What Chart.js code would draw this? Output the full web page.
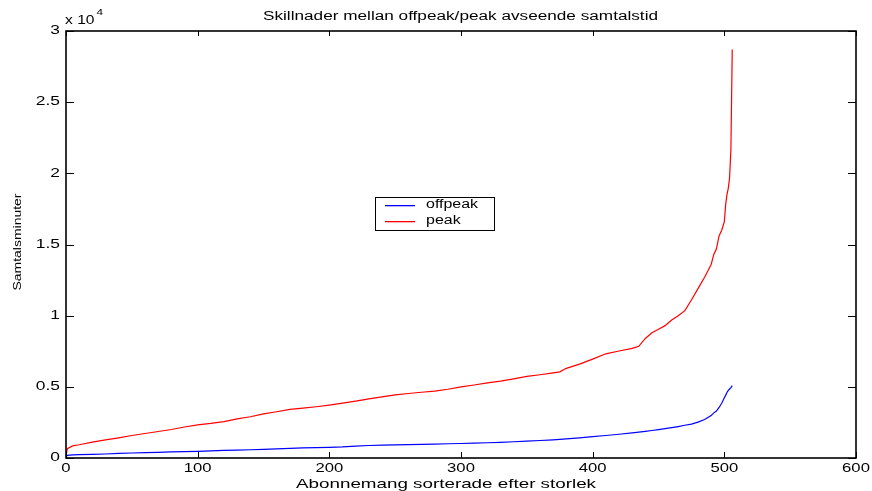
<!DOCTYPE html>
<html>
<head>
<meta charset="utf-8">
<script src="https://cdn.jsdelivr.net/npm/chart.js@4.4.1/dist/chart.umd.min.js"></script>
<style>
  html, body { margin: 0; padding: 0; background: #ffffff; }
  #wrap { width: 872px; height: 491px; }
</style>
</head>
<body>
<div id="wrap"><canvas id="c" width="872" height="491"></canvas></div>
<script>
// Subscriber index (sorted by size)
const abonnemang = [0, 1, 5, 10, 20, 30, 40, 50, 60, 70, 80, 90, 100, 110, 120, 130, 140, 150,
  160, 170, 180, 190, 200, 210, 220, 230, 240, 250, 260, 270, 280, 290, 300, 310, 320, 330,
  340, 350, 360, 370, 375, 380, 390, 400, 410, 420, 430, 435, 440, 445, 450, 455, 460, 465,
  470, 475, 480, 485, 490, 492, 494, 496, 498, 500, 501, 502, 503, 504, 505, 506];

// Call minutes, off-peak
const offpeak = [100, 180, 220, 240, 260, 280, 320, 350, 380, 400, 430, 450, 470, 500, 530, 550,
  580, 610, 640, 680, 710, 730, 750, 780, 840, 880, 900, 920, 940, 960, 980, 1000, 1020, 1040,
  1070, 1100, 1140, 1190, 1230, 1280, 1310, 1340, 1410, 1500, 1580, 1670, 1770, 1820, 1870,
  1930, 2000, 2060, 2130, 2210, 2300, 2380, 2520, 2700, 2980, 3170, 3300, 3550, 3850, 4230,
  4400, 4600, 4750, 4850, 4950, 5080];

// Call minutes, peak
const peak = [150, 650, 850, 930, 1120, 1270, 1420, 1580, 1720, 1860, 2000, 2180, 2330, 2430,
  2560, 2750, 2900, 3100, 3250, 3420, 3500, 3600, 3720, 3850, 4000, 4150, 4300, 4440, 4530,
  4620, 4700, 4830, 5000, 5130, 5280, 5400, 5560, 5740, 5850, 5980, 6050, 6300, 6600, 6950,
  7320, 7520, 7700, 7850, 8400, 8800, 9050, 9300, 9700, 10000, 10350, 11100, 11900, 12700,
  13600, 14300, 14700, 15600, 16000, 16600, 17800, 18500, 18950, 19700, 21700, 28700];

const xTicks = [0, 100, 200, 300, 400, 500, 600];
const xTickLabels = ['0', '100', '200', '300', '400', '500', '600'];
const yTicks = [0, 5000, 10000, 15000, 20000, 25000, 30000];
const yTickLabels = ['0', '0.5', '1', '1.5', '2', '2.5', '3'];

const seriesNames = ['offpeak', 'peak'];
const seriesColors = ['#0000ff', '#ff0000'];

const titleText = 'Skillnader mellan offpeak/peak avseende samtalstid';
const xTitle = 'Abonnemang sorterade efter storlek';
const yTitle = 'Samtalsminuter';

const FONT = 'Arial, "Liberation Sans", Helvetica, sans-serif';

// Text drawn with a horizontal stretch factor (wide printer-style lettering)
function wideText(ctx, text, x, y, size, sx, align) {
  ctx.save();
  ctx.font = size + 'px ' + FONT;
  ctx.textBaseline = 'middle';
  ctx.textAlign = 'left';
  const w = ctx.measureText(text).width * sx;
  let x0 = x;
  if (align === 'center') x0 = x - w / 2;
  else if (align === 'right') x0 = x - w;
  ctx.translate(x0, y);
  ctx.scale(sx, 1);
  ctx.fillText(text, 0, 0);
  ctx.restore();
  return w;
}

// Text stretched to fill a given width
function fitText(ctx, text, x, y, size, width) {
  ctx.save();
  ctx.font = size + 'px ' + FONT;
  const sx = width / ctx.measureText(text).width;
  ctx.restore();
  wideText(ctx, text, x, y, size, sx, 'center');
}

// Boxed axes with inward ticks, tick labels, titles, exponent label and legend
const framePlugin = {
  id: 'frame',
  afterDraw(chart) {
    const ctx = chart.ctx;
    const a = chart.chartArea;
    const xs = chart.scales.x, ys = chart.scales.y;
    ctx.save();

    // thin inward tick marks
    ctx.strokeStyle = '#000000';
    ctx.lineWidth = 1;
    ctx.beginPath();
    xTicks.forEach(v => {
      const px = Math.round(xs.getPixelForValue(v)) + 0.5;
      ctx.moveTo(px, a.bottom); ctx.lineTo(px, a.bottom - 6);
      ctx.moveTo(px, a.top); ctx.lineTo(px, a.top + 5);
    });
    yTicks.forEach(v => {
      const py = Math.round(ys.getPixelForValue(v)) + 0.5;
      ctx.moveTo(a.left, py); ctx.lineTo(a.left + 8, py);
      ctx.moveTo(a.right, py); ctx.lineTo(a.right - 8, py);
    });
    ctx.stroke();

    // axes box
    ctx.lineWidth = 1.6;
    ctx.strokeRect(Math.round(a.left), Math.round(a.top),
                   Math.round(a.right - a.left), Math.round(a.bottom - a.top));

    ctx.fillStyle = '#000000';

    // tick labels
    xTicks.forEach((v, i) => {
      wideText(ctx, xTickLabels[i], xs.getPixelForValue(v), 468, 13, 1.28, 'center');
    });
    yTicks.forEach((v, i) => {
      wideText(ctx, yTickLabels[i], a.left - 6, ys.getPixelForValue(v), 12, 1.45, 'right');
    });

    // titles
    fitText(ctx, titleText, 460.5, 17, 12, 395);
    fitText(ctx, xTitle, 446, 484, 13, 300);
    ctx.save();
    ctx.translate(18, 242);
    ctx.rotate(-Math.PI / 2);
    fitText(ctx, yTitle, 0, 0, 11, 97);
    ctx.restore();

    // exponent marker
    const w = wideText(ctx, 'x 10', a.left - 1, 21, 12, 1.3, 'left');
    wideText(ctx, '4', a.left - 1 + w + 2, 13, 9, 1.3, 'left');

    // legend box
    const lx = 375, ly = 197, lw = 119, lh = 33;
    ctx.fillStyle = '#ffffff';
    ctx.fillRect(lx, ly, lw, lh);
    ctx.strokeStyle = '#000000';
    ctx.lineWidth = 1;
    ctx.strokeRect(lx + 0.5, ly + 0.5, lw, lh);
    // legend entries: colour sample + label
    seriesNames.forEach((name, i) => {
      const yy = 205 + i * 15.5;
      ctx.fillStyle = seriesColors[i];
      ctx.fillRect(385, Math.round(yy), 30, 1.3);
      ctx.fillStyle = '#000000';
      wideText(ctx, name, 426, yy, 12, 1.33, 'left');
    });
    ctx.restore();
  }
};

const toPoints = vals => abonnemang.map((x, i) => ({ x: x, y: vals[i] }));

new Chart(document.getElementById('c'), {
  type: 'line',
  data: {
    datasets: [
      { label: seriesNames[0], data: toPoints(offpeak), borderColor: seriesColors[0],
        borderWidth: 1.2, pointRadius: 0, tension: 0, fill: false },
      { label: seriesNames[1], data: toPoints(peak), borderColor: seriesColors[1],
        borderWidth: 1.2, pointRadius: 0, tension: 0, fill: false }
    ]
  },
  options: {
    responsive: false,
    devicePixelRatio: 1,
    animation: false,
    layout: { padding: { left: 0, right: 16, top: 31, bottom: 0 } },
    plugins: { legend: { display: false }, title: { display: false }, tooltip: { enabled: false } },
    scales: {
      x: {
        type: 'linear', min: 0, max: 600,
        afterBuildTicks: s => { s.ticks = xTicks.map(v => ({ value: v })); },
        afterFit: s => { s.height = 33; },
        grid: { display: false },
        border: { display: false },
        ticks: { display: false }
      },
      y: {
        type: 'linear', min: 0, max: 30000,
        afterBuildTicks: s => { s.ticks = yTicks.map(v => ({ value: v })); },
        afterFit: s => { s.width = 66; },
        grid: { display: false },
        border: { display: false },
        ticks: { display: false }
      }
    }
  },
  plugins: [framePlugin]
});
</script>
</body>
</html>
